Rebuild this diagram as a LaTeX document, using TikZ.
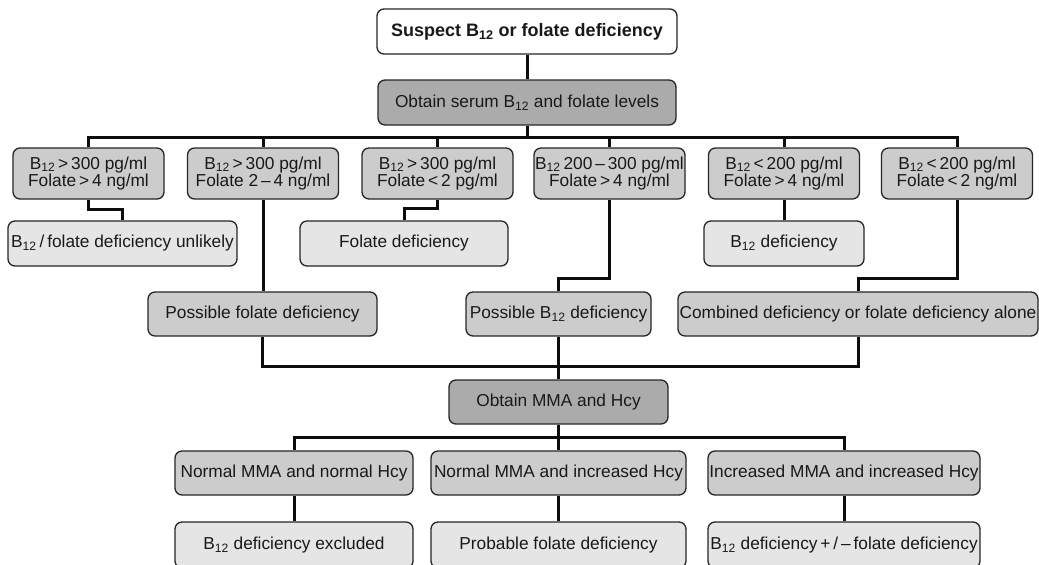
\documentclass[tikz,border=0pt]{standalone}
\usepackage{fontspec}
\setmainfont{Liberation Sans}
\newcommand\Btw{B\textsubscript{12}}
\begin{document}
\begin{tikzpicture}[x=1pt,y=-1pt,
  box/.style={draw=black!85, line width=1.3pt, rounded corners=7pt, align=center,
    inner sep=0pt, font=\fontsize{17.3}{17.5}\selectfont, text=black!90},
  whitebox/.style={box, fill=white},
  darkbox/.style={box, fill=black!33},
  midbox/.style={box, fill=black!20},
  lightbox/.style={box, fill=black!10},
  conn/.style={line width=3pt, black!95}]
\useasboundingbox (0,0) rectangle (1039,565);

% top of the chart
\node[whitebox, minimum width=300pt, minimum height=45pt, font=\fontsize{18}{18}\bfseries] (s) at (527,31.5) {Suspect \Btw{} or folate deficiency};
\node[darkbox, minimum width=298pt, minimum height=45pt] (o1) at (527,102.5) {Obtain serum \Btw{} and folate levels};

% serum level combinations
\begin{scope}[every node/.append style={midbox, minimum width=151pt, minimum height=51pt}]
\node (ra) at (88.5,173.5)  {\Btw\,>\,300 pg/ml\\Folate\,>\,4 ng/ml};
\node (rb) at (263,173.5)   {\Btw\,>\,300 pg/ml\\Folate 2\,–\,4 ng/ml};
\node (rc) at (437.5,173.5) {\Btw\,>\,300 pg/ml\\Folate\,<\,2 pg/ml};
\node (rd) at (609.5,173.5) {\Btw\,200\,–\,300 pg/ml\\Folate\,>\,4 ng/ml};
\node (re) at (784,173.5)   {\Btw\,<\,200 pg/ml\\Folate\,>\,4 ng/ml};
\node (rf) at (957,173.5)   {\Btw\,<\,200 pg/ml\\Folate\,<\,2 ng/ml};
\end{scope}

% direct conclusions
\node[lightbox, minimum width=229pt, minimum height=45pt] (u)  at (122.5,243.5) {\Btw\,/\,folate deficiency unlikely};
\node[lightbox, minimum width=208pt, minimum height=45pt] (fd) at (404,243.5)   {Folate deficiency};
\node[lightbox, minimum width=160pt, minimum height=45pt] (bd) at (784,243.5)   {\Btw{} deficiency};

% possible deficiencies
\node[midbox, minimum width=229pt, minimum height=44pt] (pf) at (262.5,314) {Possible folate deficiency};
\node[midbox, minimum width=185pt, minimum height=44pt] (pb) at (558.5,314) {Possible \Btw{} deficiency};
\node[midbox, minimum width=360pt, minimum height=44pt] (cb) at (858,314)   {Combined deficiency or folate deficiency alone};

% second test
\node[darkbox, minimum width=219pt, minimum height=44pt] (om) at (558.5,402) {Obtain MMA and Hcy};

\node[midbox, minimum width=238pt, minimum height=44pt] (ma) at (294,473)   {Normal MMA and normal Hcy};
\node[midbox, minimum width=255pt, minimum height=44pt] (mb) at (558.5,473) {Normal MMA and increased Hcy};
\node[midbox, minimum width=272pt, minimum height=44pt] (mc) at (844,473)   {Increased MMA and increased Hcy};

\node[lightbox, minimum width=238pt, minimum height=46pt] (fa) at (294,545)   {\Btw{} deficiency excluded};
\node[lightbox, minimum width=255pt, minimum height=46pt] (fb) at (558.5,545) {Probable folate deficiency};
\node[lightbox, minimum width=272pt, minimum height=46pt] (fc) at (844,545)   {\Btw{} deficiency\,+\,/\,–\,folate deficiency};

% connectors
\coordinate (b1) at (527,137);
\draw[conn] (s) -- (o1);
\draw[conn] (o1) -- (b1);
\foreach \n in {ra,rb,rc,rd,re,rf} \draw[conn] (b1) -| (\n.north);
\draw[conn] (ra.south) -- ++(0,10) -| (u.north);
\draw[conn] (rc.south) -- ++(0,9) -| (fd.north);
\draw[conn] (re) -- (bd);
\draw[conn] (rb.south) -- (rb.south |- pf.north);
\draw[conn] (rd.south) -- ++(0,79) -| (pb.north);
\draw[conn] (rf.south) -- ++(0,79) -| (cb.north);

\coordinate (b2) at (558.5,366);
\draw[conn] (pf.south) |- (b2) -| (cb.south);
\draw[conn] (pb) -- (om);

\coordinate (b3) at (558.5,437);
\draw[conn] (om) -- (b3);
\foreach \n in {ma,mb,mc} \draw[conn] (b3) -| (\n.north);
\draw[conn] (ma) -- (fa);
\draw[conn] (mb) -- (fb);
\draw[conn] (mc) -- (fc);
\end{tikzpicture}
\end{document}
